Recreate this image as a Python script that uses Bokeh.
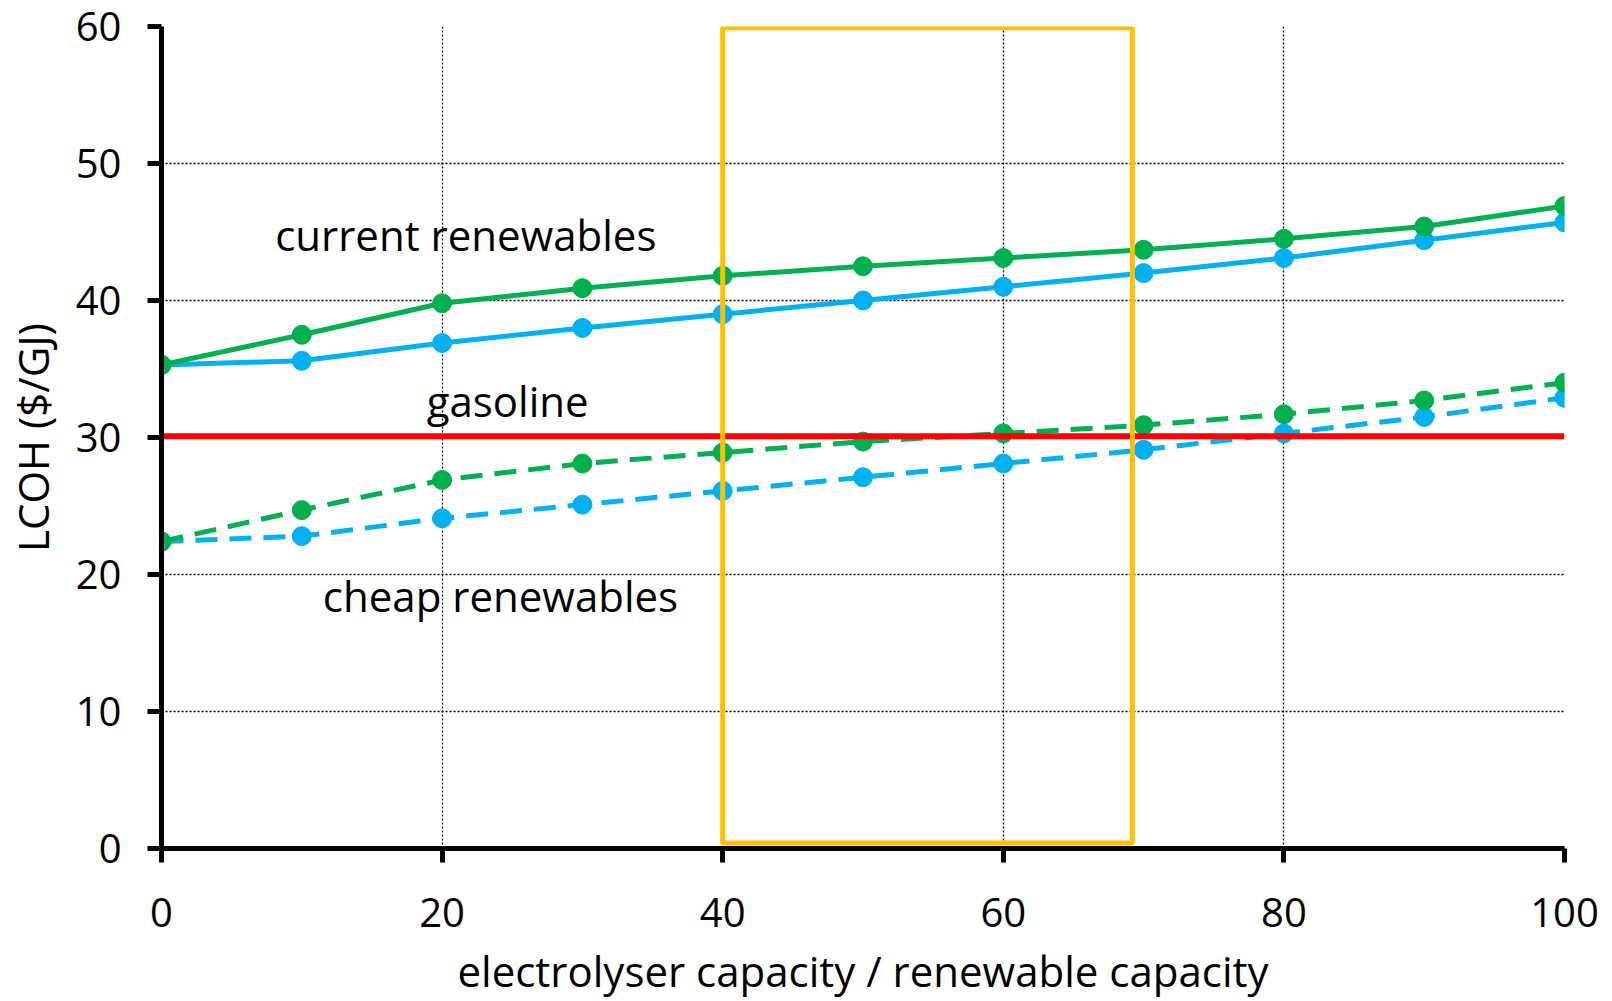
from bokeh.plotting import figure
from bokeh.models import Range1d, FixedTicker, Label, ColumnDataSource
from bokeh.embed import file_html
from bokeh.resources import INLINE

# ---- data ----
ratio = [0, 10, 20, 30, 40, 50, 60, 70, 80, 90, 100]
current_green = [35.3, 37.5, 39.8, 40.9, 41.8, 42.5, 43.1, 43.7, 44.5, 45.4, 46.9]
current_blue = [35.3, 35.6, 36.9, 38.0, 39.0, 40.0, 41.0, 42.0, 43.1, 44.4, 45.7]
cheap_green = [22.4, 24.7, 26.9, 28.1, 28.9, 29.7, 30.3, 30.9, 31.7, 32.7, 34.0]
cheap_blue = [22.4, 22.8, 24.1, 25.1, 26.1, 27.1, 28.1, 29.1, 30.3, 31.5, 32.9]
gasoline = 30.1
box_x = [40, 69.2]
box_y = [0.4, 59.9]
x_ticks = [0, 20, 40, 60, 80, 100]
y_ticks = [0, 10, 20, 30, 40, 50, 60]

FONT = "Open Sans"
GREEN = "#00B050"
BLUE = "#00B0F0"
RED = "#FF0000"
ORANGE = "#FFC000"

p = figure(width=1604, height=1001, output_backend="svg", toolbar_location=None,
           x_range=Range1d(0, 100), y_range=Range1d(0, 60),
           min_border_left=159, min_border_right=40, min_border_top=26, min_border_bottom=150)
p.outline_line_color = None
p.background_fill_color = "white"
p.border_fill_color = "white"

for ax in (p.xaxis[0], p.yaxis[0]):
    ax.axis_line_width = 5
    ax.axis_line_color = "black"
    ax.major_tick_line_width = 5
    ax.major_tick_line_color = "black"
    ax.major_tick_out = 14
    ax.major_tick_in = 0
    ax.minor_tick_line_color = None
    ax.major_label_text_font = FONT
    ax.major_label_text_font_size = "40px"
    ax.major_label_text_color = "black"
    ax.major_label_text_line_height = 1.0
    ax.axis_label_text_font = FONT
    ax.axis_label_text_font_size = "42px"
    ax.axis_label_text_font_style = "normal"
    ax.axis_label_text_color = "black"
    ax.axis_label_text_line_height = 1.0

p.xaxis.ticker = FixedTicker(ticks=x_ticks)
p.yaxis.ticker = FixedTicker(ticks=y_ticks)
p.xaxis.axis_label = "electrolyser capacity / renewable capacity"
p.yaxis.axis_label = "LCOH ($/GJ)"
p.xaxis.major_label_standoff = 35
p.yaxis.major_label_standoff = 26
p.xaxis.axis_label_standoff = 12
p.yaxis.axis_label_standoff = 12

p.xgrid.ticker = FixedTicker(ticks=x_ticks[1:])
p.ygrid.ticker = FixedTicker(ticks=y_ticks[1:])
for g in (p.xgrid[0], p.ygrid[0]):
    g.grid_line_color = "black"
    g.grid_line_width = 1.3
    g.grid_line_dash = "2 2"

src = ColumnDataSource(dict(x=ratio, cg=current_green, cb=current_blue,
                            chg=cheap_green, chb=cheap_blue))

# cheap renewables (dashed)
p.line("x", "chb", source=src, color=BLUE, line_width=5, line_dash="22 12")
p.scatter("x", "chb", source=src, color=BLUE, size=19)
p.line("x", "chg", source=src, color=GREEN, line_width=5, line_dash="22 12")
p.scatter("x", "chg", source=src, color=GREEN, size=19)

# current renewables (solid)
p.line("x", "cb", source=src, color=BLUE, line_width=5)
p.scatter("x", "cb", source=src, color=BLUE, size=19)
p.line("x", "cg", source=src, color=GREEN, line_width=5)
p.scatter("x", "cg", source=src, color=GREEN, size=19)

# gasoline
p.line([ratio[0], ratio[-1]], [gasoline, gasoline], color=RED, line_width=6)

# highlighted range
p.quad(left=box_x[0], right=box_x[1], bottom=box_y[0], top=box_y[1],
       fill_alpha=0, line_color=ORANGE, line_width=5)

for txt, x, y in [("current renewables", 8.1, 44.8),
                  ("gasoline", 18.9, 32.7),
                  ("cheap renewables", 11.5, 18.5)]:
    p.add_layout(Label(x=x, y=y, text=txt, text_font=FONT, text_font_size="42px",
                       text_color="black", text_baseline="middle", text_align="left"))

open("out.html", "w").write(file_html(p, INLINE))
